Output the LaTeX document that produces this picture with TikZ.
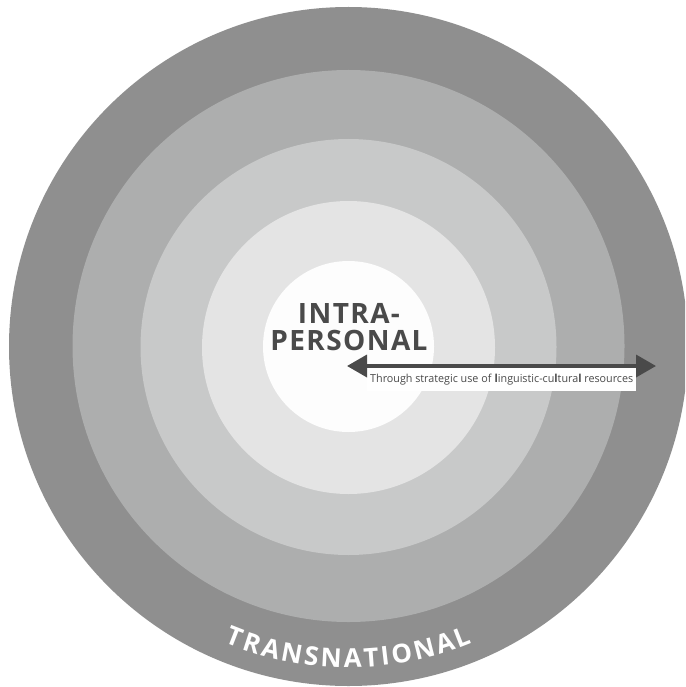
\documentclass[tikz,border=0pt]{standalone}
\usepackage{fontspec}
\setmainfont{Open Sans}
\newfontfamily\osans{Open Sans}
\usetikzlibrary{arrows.meta,calc}
\definecolor{ringA}{HTML}{8F8F8F}
\definecolor{ringB}{HTML}{ADAEAE}
\definecolor{ringC}{HTML}{C8C9C9}
\definecolor{ringD}{HTML}{E4E4E4}
\definecolor{ringE}{HTML}{FDFDFD}
\definecolor{ink}{HTML}{4A4A4A}
\newlength\chw
\newcommand\tnfont{\osans\bfseries\fontsize{26}{26}\selectfont}
\def\Rb{321}
\def\trk{2.6}
\begin{document}
\gdef\tot{0}%
\foreach \ch [count=\i] in {T,R,A,N,S,N,A,T,I,O,N,A,L}{%
  \settowidth\chw{\tnfont \ch}%
  \expandafter\xdef\csname lw\i\endcsname{\the\chw}%
  \pgfmathsetmacro\tmp{\tot+\the\chw+\trk}%
  \xdef\tot{\tmp}}%
\begin{tikzpicture}[x=1pt,y=1pt,
  disc/.style={circle, inner sep=0pt, draw=none},
  title/.style={font=\osans\bfseries\fontsize{28}{28}\selectfont\addfontfeature{LetterSpace=5}, text=ink, inner sep=0pt, anchor=base},
  caption/.style={font=\osans\fontsize{11}{11}\selectfont, text=ink, inner sep=0pt, anchor=base west},
  arrowline/.style={draw=ink, line width=3.6pt, {Triangle[length=20pt,width=22pt]}-{Triangle[length=20pt,width=22pt]}},
  letter/.style={font=\tnfont, text=white, inner sep=0pt, anchor=base}]
\useasboundingbox (0,0) rectangle (685,-687);
\clip (0,0) rectangle (685,-687);
\fill[white] (0,0) rectangle (685,-687);
\coordinate (C) at (348.5,-346.5);
\node[disc, fill=ringA, minimum size=679pt] (r1) at (348.5,-346.5) {};
\node[disc, fill=ringB, minimum size=552pt] (r2) at (348.5,-346) {};
\node[disc, fill=ringC, minimum size=416pt] (r3) at (348.5,-347) {};
\node[disc, fill=ringD, minimum size=293pt] (r4) at (348.5,-347.5) {};
\node[disc, fill=ringE, minimum size=171pt] (r5) at (348.5,-346.5) {};
% title
\node[title] (intra) at (349,-323) {INTRA-};
\node[title] (personal) at (349,-350) {PERSONAL};
% caption box and arrow
\node[fill=white, inner sep=0pt, minimum width=269pt, minimum height=24pt, anchor=north west] (box) at (367,-367) {};
\node[caption] (cap) at (370,-382.5) {\resizebox{263pt}{\height}{Through strategic use of \textbf{l}inguistic-cu\textbf{l}tura\textbf{l} resources}};
\coordinate (arL) at (347,-366);
\coordinate (arR) at (656,-366);
\draw[arrowline] (arL) -- (arR);
% curved label
\pgfmathsetmacro\startS{-(\tot-\trk)/2}
\xdef\curS{\startS}
\foreach \ch [count=\i] in {T,R,A,N,S,N,A,T,I,O,N,A,L}{%
  \edef\cw{\csname lw\i\endcsname}%
  \pgfmathsetmacro\midS{\curS+\cw/2}%
  \pgfmathsetmacro\ang{270+\midS/\Rb*180/pi}%
  \pgfmathsetmacro\rot{\ang+90}%
  \node[letter, rotate=\rot] (t\i) at ($(C)+(\ang:\Rb)$) {\ch};
  \pgfmathsetmacro\tmp{\curS+\cw+\trk}%
  \xdef\curS{\tmp}}
\end{tikzpicture}
\end{document}
